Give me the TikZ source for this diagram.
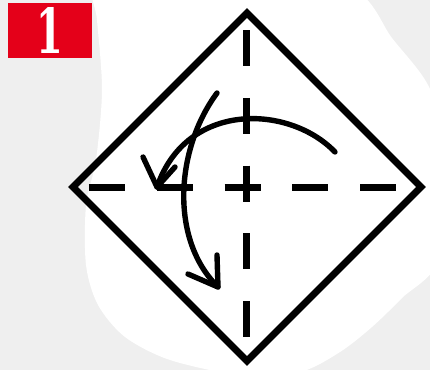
\documentclass[tikz,border=0pt]{standalone}
\usepackage{tikz}
\usepackage{graphicx}
\usepackage{fontspec}
\usetikzlibrary{positioning}
\newfontfamily\stepfont{DejaVu Serif}
\definecolor{stepred}{RGB}{228,0,25}
\definecolor{papercolor}{RGB}{239,239,239}

\begin{document}
\begin{tikzpicture}[
    x=0.5pt, y=-0.5pt,
    fold/.style={line width=3.5pt, line join=miter},
    crease/.style={line width=3.5pt, dash pattern=on 18pt off 15.9pt},
    turn/.style={line width=2.7pt, line cap=round},
    barb/.style={line width=2.7pt, line cap=round, line join=round},
    stepbox/.style={fill=stepred, inner sep=0pt, minimum width=42pt, minimum height=27.5pt, text=white, font=\stepfont\bfseries\fontsize{31}{31}\selectfont}
]

% Paper
\useasboundingbox (0,0) rectangle (430,370);
\fill[papercolor] (0,0) rectangle (430,370);
\begin{scope}
\clip (0,0) rectangle (430,370);
\fill[white] plot[smooth cycle] coordinates {(93,-20) (97,20) (102,90) (96,160) (86,205) (86,265) (98,305) (125,337) (170,360) (240,375) (300,372) (340,352) (372,327) (402,298) (440,258) (450,150) (428,85) (392,38) (355,-10) (250,-40) (150,-35)};
\end{scope}

% Step number
\node[stepbox] (step1) at (50,30.5) {\scalebox{0.62}[1]{1}};

% Square
\coordinate (top) at (247,13);
\coordinate (right) at (421,187);
\coordinate (bottom) at (247,361);
\coordinate (left) at (73,187);
\draw[fold] (top) -- (right) -- (bottom) -- (left) -- cycle;

% Creases
\coordinate (hs) at (89,187);
\coordinate (he) at (397,187);
\coordinate (vs) at (247,30);
\coordinate (ve) at (247,338);
\draw[crease] (hs) -- (he);
\draw[crease] (vs) -- (ve);

% Folds
\coordinate (a1s) at (335,152);
\coordinate (a1t) at (157,187);
\coordinate (a1l) at (143,157);
\coordinate (a1r) at (175,167);
\draw[turn] (a1s) .. controls (290,105) and (187,100) .. (a1t);
\draw[barb] (a1l) -- (a1t) -- (a1r);

\coordinate (a2s) at (217,93);
\coordinate (a2t) at (218,287);
\coordinate (a2l) at (188,274);
\coordinate (a2r) at (217,255);
\draw[turn] (a2s) .. controls (175,150) and (170,240) .. (a2t);
\draw[barb] (a2l) -- (a2t) -- (a2r);

\end{tikzpicture}
\end{document}
